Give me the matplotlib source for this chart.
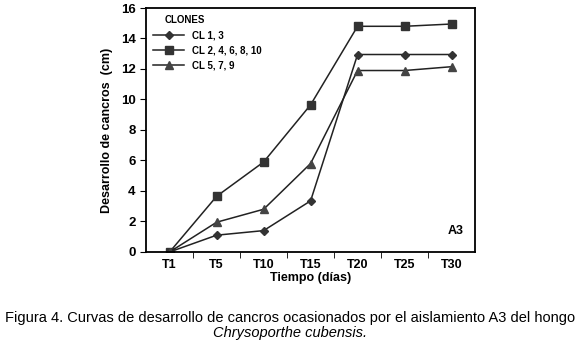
import numpy as np
import matplotlib.pyplot as plt
from matplotlib.ticker import FixedLocator

# datos
tiempos = ["T1", "T5", "T10", "T15", "T20", "T25", "T30"]
cl_1_3 = [0, 1.1, 1.4, 3.35, 12.95, 12.95, 12.95]
cl_2_4_6_8_10 = [0, 3.65, 5.9, 9.65, 14.8, 14.8, 14.95]
cl_5_7_9 = [0, 1.95, 2.8, 5.8, 11.9, 11.9, 12.15]

plt.rcParams['font.family'] = ['Liberation Sans', 'DejaVu Sans']

fig = plt.figure(figsize=(5.8, 3.48), dpi=100)
ax = fig.add_axes([0.252, 0.276, 0.567, 0.701])

x = np.arange(len(tiempos))
ax.plot(x, cl_1_3, color="#222222", lw=1.1, marker="D", ms=4.5, mfc="#333333", mec="#333333", label="CL 1, 3")
ax.plot(x, cl_2_4_6_8_10, color="#222222", lw=1.1, marker="s", ms=5.5, mfc="#333333", mec="#333333", label="CL 2, 4, 6, 8, 10")
ax.plot(x, cl_5_7_9, color="#222222", lw=1.1, marker="^", ms=6, mfc="#444444", mec="#444444", label="CL 5, 7, 9")

ax.set_xlim(-0.5, 6.5)
ax.set_ylim(0, 16)
ax.set_yticks(range(0, 17, 2))
ax.set_xticks(x)
ax.set_xticklabels(tiempos, fontweight="bold", fontsize=9)
ax.tick_params(axis="x", which="major", length=0, pad=5)
ax.xaxis.set_minor_locator(FixedLocator(np.arange(0.5, 6.5, 1)))
ax.tick_params(axis="x", which="minor", length=4, direction="out")
ax.tick_params(axis="y", length=4, direction="out", labelsize=9.5)
for lab in ax.get_yticklabels():
    lab.set_fontweight("bold")
for s in ax.spines.values():
    s.set_linewidth(1.3)

ax.set_xlabel("Tiempo (días)", fontweight="bold", fontsize=9, labelpad=1)
ax.set_ylabel("Desarrollo de cancros  (cm)", fontweight="bold", fontsize=9, labelpad=6)
ax.text(0.965, 0.06, "A3", transform=ax.transAxes, ha="right", va="bottom", fontweight="bold", fontsize=9)

leg = ax.legend(title="CLONES", loc="upper left", frameon=False, fontsize=7,
                title_fontproperties={"weight": "bold", "size": 7},
                handlelength=3.2, labelspacing=0.55, borderaxespad=0.3)
for t in leg.get_texts():
    t.set_fontweight("bold")
leg._legend_box.align = "left"
leg.get_title().set_position((12, 0))

fig.text(0.5, 0.075, "Figura 4. Curvas de desarrollo de cancros ocasionados por el aislamiento A3 del hongo",
         ha="center", fontsize=10.5)
fig.text(0.5, 0.032, "Chrysoporthe cubensis.", ha="center", fontsize=10.5, style="italic")

fig.savefig("out.png", dpi=100)
